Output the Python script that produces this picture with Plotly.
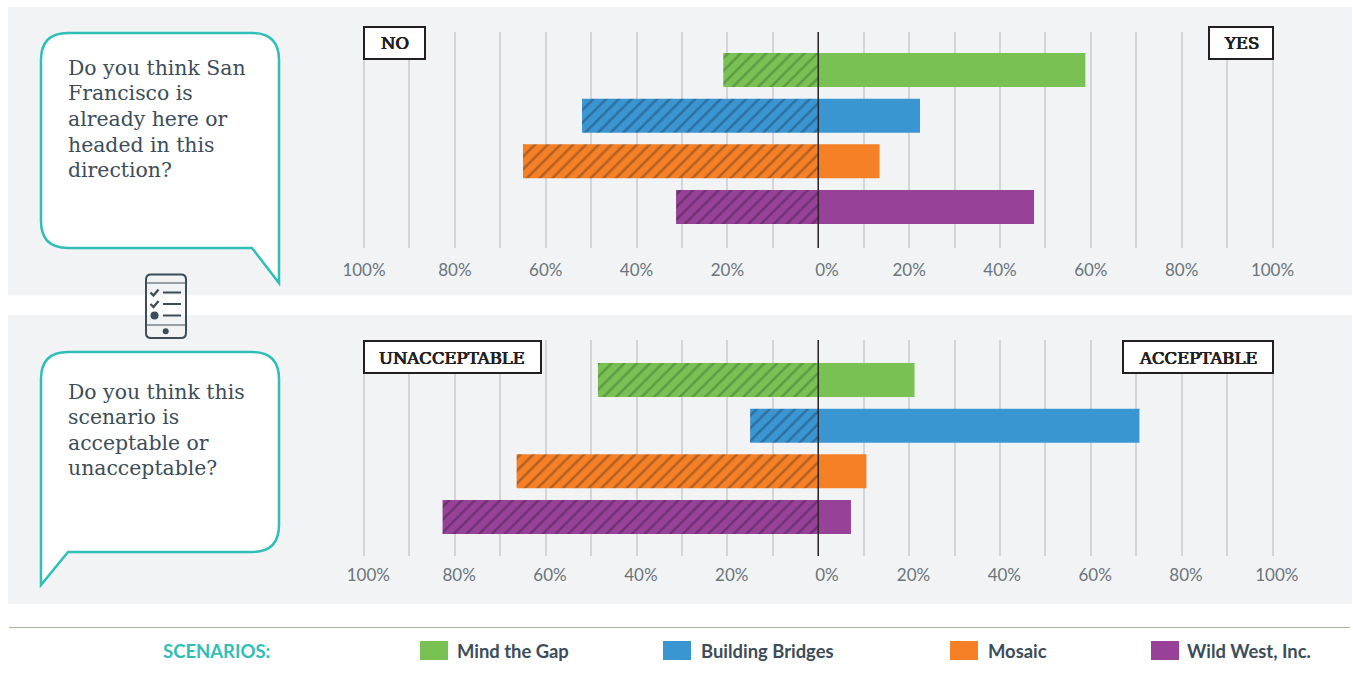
import plotly.graph_objects as go

W, H = 1353, 673

scenarios = ["Mind the Gap", "Building Bridges", "Mosaic", "Wild West, Inc."]
colors = ["#78c152", "#3a96d2", "#f58025", "#984198"]
hatch_colors = ["#5d9a46", "#2f6e9e", "#b25f22", "#6e3272"]
no_values = [20.9, 52, 65.0, 31.3]
yes_values = [58.8, 22.4, 13.5, 47.5]
unacceptable_values = [48.5, 15, 66.4, 82.7]
acceptable_values = [21.2, 70.7, 10.6, 7.2]
tick_vals = [-100, -80, -60, -40, -20, 0, 20, 40, 60, 80, 100]
tick_text = ["100%", "80%", "60%", "40%", "20%", "0%", "20%", "40%", "60%", "80%", "100%"]
grid_vals = list(range(-100, 101, 10))
question_one = ["Do you think San", "Francisco is", "already here or", "headed in this", "direction?"]
question_two = ["Do you think this", "scenario is", "acceptable or", "unacceptable?"]

PANEL = "#f1f3f5"
TEAL = "#2fbfb6"
SLATE = "#3c4d59"
SERIF = "DejaVu Serif"
SANS = "Lato"
NB = "\u00a0"


def px(x):
    return x / W


def py(y):
    return 1 - y / H


def path(*pts):
    out = []
    for p in pts:
        if isinstance(p, str):
            out.append(p)
        else:
            out.append(f"{px(p[0]):.5f},{py(p[1]):.5f}")
    return " ".join(out)


fig = go.Figure()


def panel(xa, ya, neg, pos):
    for name, col, hatch, n, p in zip(scenarios, colors, hatch_colors, neg, pos):
        common = dict(y=[name], orientation="h", xaxis=xa, yaxis=ya, showlegend=False, hoverinfo="x+y")
        fig.add_trace(go.Bar(x=[-n], name=name,
                             marker=dict(color=col, line_width=0,
                                         pattern=dict(shape="/", size=9, solidity=0.27,
                                                      fgcolor=hatch, bgcolor=col, fgopacity=1)),
                             **common))
        fig.add_trace(go.Bar(x=[p], name=name, marker=dict(color=col, line_width=0), **common))


panel("x", "y", no_values, yes_values)
panel("x2", "y2", unacceptable_values, acceptable_values)

shapes = []
for y0, y1 in [(7, 295), (315, 604)]:
    shapes.append(dict(type="rect", xref="paper", yref="paper", x0=px(8), x1=px(1352),
                       y0=py(y0), y1=py(y1), fillcolor=PANEL, line_width=0, layer="below"))

# dividing rule
shapes.append(dict(type="line", xref="paper", yref="paper", x0=px(9), x1=px(1350), y0=py(627.5), y1=py(627.5),
                   line=dict(color="#a5b89b", width=1)))

# zero lines
for xa, ya in [("x", "y"), ("x2", "y2")]:
    shapes.append(dict(type="line", xref=xa, yref=f"{ya} domain", x0=0, x1=0, y0=0, y1=1,
                       line=dict(color="#231f20", width=1.4)))

# speech bubbles
r = 27
bubble1 = path("M", (41 + r, 33), "L", (279 - r, 33), "Q", (279, 33), (279, 33 + r), "L", (279, 283), "L", (252, 248),
               "L", (41 + r, 248), "Q", (41, 248), (41, 248 - r), "L", (41, 33 + r), "Q", (41, 33), (41 + r, 33), "Z")
bubble2 = path("M", (41 + r, 352), "L", (279 - r, 352), "Q", (279, 352), (279, 352 + r), "L", (279, 552 - r),
               "Q", (279, 552), (279 - r, 552), "L", (68, 552), "L", (41, 585), "L", (41, 352 + r),
               "Q", (41, 352), (41 + r, 352), "Z")
for b in (bubble1, bubble2):
    shapes.append(dict(type="path", xref="paper", yref="paper", path=b, fillcolor="white",
                       line=dict(color=TEAL, width=2.5)))

# phone icon
rr = 5
phone = path("M", (146 + rr, 274.5), "L", (186 - rr, 274.5), "Q", (186, 274.5), (186, 274.5 + rr),
             "L", (186, 338 - rr), "Q", (186, 338), (186 - rr, 338), "L", (146 + rr, 338),
             "Q", (146, 338), (146, 338 - rr), "L", (146, 274.5 + rr), "Q", (146, 274.5), (146 + rr, 274.5), "Z")
shapes.append(dict(type="path", xref="paper", yref="paper", path=phone, line=dict(color=SLATE, width=2)))
for a, b, c, d, w in [(146, 283, 186, 283, 1), (146, 325, 186, 325, 1),
                      (163, 292.5, 181, 292.5, 2), (163, 304, 181, 304, 2), (163, 315.5, 181, 315.5, 2)]:
    shapes.append(dict(type="line", xref="paper", yref="paper", x0=px(a), y0=py(b), x1=px(c), y1=py(d),
                       line=dict(color=SLATE, width=w)))
for yc in (292.5, 304):
    shapes.append(dict(type="path", xref="paper", yref="paper",
                       path=path("M", (150.5, yc), "L", (153.5, yc + 3), "L", (158.5, yc - 3)),
                       line=dict(color=SLATE, width=2.2)))
for xc, yc, rad in [(154.5, 315.5, 4), (165.7, 331.3, 3)]:
    shapes.append(dict(type="circle", xref="paper", yref="paper", x0=px(xc - rad), x1=px(xc + rad),
                       y0=py(yc - rad), y1=py(yc + rad), fillcolor=SLATE, line_width=0))

annotations = []


def text(x, y, s, size, color, family, xanchor="left", yanchor="middle", weight=None, align="left", shadow=None):
    font = dict(size=size, color=color, family=family, weight=weight)
    if shadow:
        font["shadow"] = shadow
    annotations.append(dict(xref="paper", yref="paper", x=px(x), y=py(y), text=s, showarrow=False,
                            xanchor=xanchor, yanchor=yanchor, align=align, font=font))


for i, line in enumerate(question_one):
    text(66, 68 + 25.5 * i, line, 20.4, SLATE, SERIF)
for i, line in enumerate(question_two):
    text(66, 391.5 + 25.5 * i, line, 20.4, SLATE, SERIF)

INK = "#231f20"
heavy = f"0.5px 0 0 {INK}, -0.5px 0 0 {INK}, 0 0.3px 0 {INK}"
for x0, x1, y0, y1, s in [(364, 425, 27, 59, "NO"), (1209, 1273, 27, 59, "YES"),
                          (364, 541, 341, 373, "UNACCEPTABLE"), (1123, 1273, 341, 373, "ACCEPTABLE")]:
    shapes.append(dict(type="rect", xref="paper", yref="paper", x0=px(x0), x1=px(x1), y0=py(y0), y1=py(y1),
                       fillcolor="white", line=dict(color=INK, width=2)))
    text((x0 + x1) / 2, (y0 + y1) / 2 + 1, s, 16.5, INK, SERIF, xanchor="center", shadow=heavy)

# scenario key
text(161, 651, "SCENARIOS:", 18.5, TEAL, SANS, weight="bold")
key_x = [420, 663, 950, 1151]
key_text_x = [455, 699, 986, 1185]
for name, col, x0, tx in zip(scenarios, colors, key_x, key_text_x):
    shapes.append(dict(type="rect", xref="paper", yref="paper", x0=px(x0), x1=px(x0 + 28), y0=py(641), y1=py(660),
                       fillcolor=col, line_width=0))
    text(tx, 651, name, 18.4, SLATE, SANS, weight="bold")


def xax(yanchor, ticklen, labels):
    return dict(range=[-102, 102], tickmode="array", tickvals=tick_vals, ticktext=labels,
                automargin=False, showgrid=False, zeroline=False, showline=False,
                ticks="outside", ticklen=ticklen, tickcolor="rgba(0,0,0,0)",
                tickfont=dict(family=SANS, size=17, color="#6a757c"),
                anchor=yanchor, domain=[px(354.9), px(1281.6)],
                minor=dict(tickvals=grid_vals, showgrid=True, gridcolor="#d3d6d9", gridwidth=1.5, ticks=""))


def yax(top, bottom, r0, r1):
    return dict(domain=[py(bottom), py(top)], range=[r1, r0], visible=False, type="category",
                automargin=False, categoryorder="array", categoryarray=scenarios)


top_labels = [(NB * 4 + t) if t == "0%" else t for t in tick_text]
bottom_labels = [(NB * 4 + t) if t == "0%" else (NB * 2 + t) for t in tick_text]

fig.update_layout(
    width=W, height=H, margin=dict(l=0, r=0, t=0, b=0, pad=0), autosize=False,
    paper_bgcolor="white", plot_bgcolor="rgba(0,0,0,0)",
    barmode="relative", bargap=0.254,
    xaxis=xax("y", 7, top_labels), xaxis2=xax("y2", 4, bottom_labels),
    yaxis=yax(32, 248, -0.833, 3.9), yaxis2=yax(340, 556, -0.877, 3.855),
    shapes=shapes, annotations=annotations,
)

fig.write_html("out.html", config={"displayModeBar": False},
               post_script="document.body.style.margin='0';document.documentElement.style.overflow='hidden';")
